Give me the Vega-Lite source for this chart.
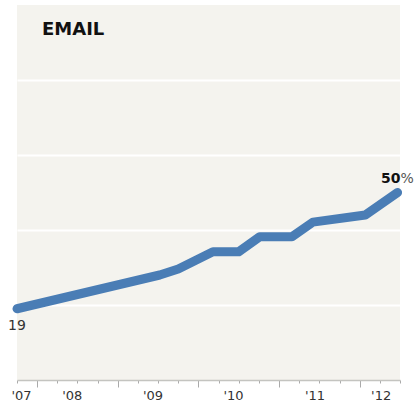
{
  "$schema": "https://vega.github.io/schema/vega-lite/v6.json",
  "width": 383,
  "height": 375,
  "autosize": {"type": "none"},
  "padding": {"left": 17, "top": 5, "right": 17, "bottom": 32},
  "background": "white",
  "config": {
    "view": {"fill": "#f4f3ee", "stroke": null},
    "font": "DejaVu Sans"
  },
  "title": {
    "text": "EMAIL",
    "anchor": "start",
    "frame": "group",
    "dx": 25,
    "dy": 38,
    "font": "DejaVu Sans",
    "fontSize": 18,
    "fontWeight": "bold",
    "color": "#111"
  },
  "data": {
    "values": [
      {"t": 2007.75, "v": 19},
      {"t": 2009.52, "v": 28},
      {"t": 2009.75, "v": 29.6},
      {"t": 2010.18, "v": 34.2},
      {"t": 2010.5, "v": 34.2},
      {"t": 2010.76, "v": 38.2},
      {"t": 2011.16, "v": 38.2},
      {"t": 2011.42, "v": 42.1},
      {"t": 2012.07, "v": 44},
      {"t": 2012.47, "v": 50}
    ]
  },
  "encoding": {
    "x": {
      "field": "t",
      "type": "quantitative",
      "scale": {"domain": [2007.75, 2012.5], "nice": false, "zero": false},
      "axis": {
        "title": null,
        "grid": false,
        "values": [2007.75, 2007.8, 2008, 2008.25, 2008.43, 2008.5, 2008.75, 2009, 2009.25, 2009.43, 2009.5, 2009.75, 2010, 2010.25, 2010.43, 2010.5, 2010.75, 2011, 2011.25, 2011.44, 2011.5, 2011.75, 2012, 2012.25, 2012.26, 2012.5],
        "labelExpr": "datum.value*4 == round(datum.value*4) ? '' : \"'\" + substring(toString(floor(datum.value)), 2, 4)",
        "labelOverlap": false,
        "labelBound": false,
        "labelFlush": false,
        "labelFont": "DejaVu Sans",
        "labelFontSize": 13,
        "labelColor": "#333",
        "labelPadding": 6,
        "domainColor": "#c4c4c0",
        "domainWidth": 1.5,
        "tickColor": "#aaa",
        "tickWidth": 1,
        "tickOpacity": {"condition": {"test": "datum.value*4 != round(datum.value*4)", "value": 0}, "value": 1},
        "tickSize": {"condition": {"test": "datum.value == round(datum.value)", "value": 7}, "value": 3}
      }
    },
    "y": {
      "field": "v",
      "type": "quantitative",
      "scale": {"domain": [0, 100], "nice": false},
      "axis": {
        "title": null,
        "values": [20, 40, 60, 80],
        "labels": false,
        "ticks": false,
        "domain": false,
        "grid": true,
        "gridColor": "white",
        "gridWidth": 2
      }
    }
  },
  "layer": [
    {
      "mark": {"type": "line", "color": "#4a7db5", "strokeWidth": 9, "strokeCap": "round", "strokeJoin": "round"}
    },
    {
      "transform": [{"filter": "datum.t == 2007.75"}],
      "mark": {"type": "text", "baseline": "top", "align": "center", "dy": 10, "fontSize": 14, "color": "#333", "font": "DejaVu Sans"},
      "encoding": {"text": {"field": "v", "type": "quantitative"}}
    },
    {
      "transform": [{"filter": "datum.t == 2012.47"}],
      "mark": {"type": "text", "baseline": "alphabetic", "align": "right", "dx": 3, "dy": -10, "fontSize": 14, "fontWeight": "bold", "color": "#111", "font": "DejaVu Sans"},
      "encoding": {"text": {"field": "v", "type": "quantitative"}}
    },
    {
      "transform": [{"filter": "datum.t == 2012.47"}],
      "mark": {"type": "text", "baseline": "alphabetic", "align": "left", "dx": 3, "dy": -10, "fontSize": 14, "color": "#555", "font": "DejaVu Sans"},
      "encoding": {"text": {"value": "%"}}
    }
  ]
}
